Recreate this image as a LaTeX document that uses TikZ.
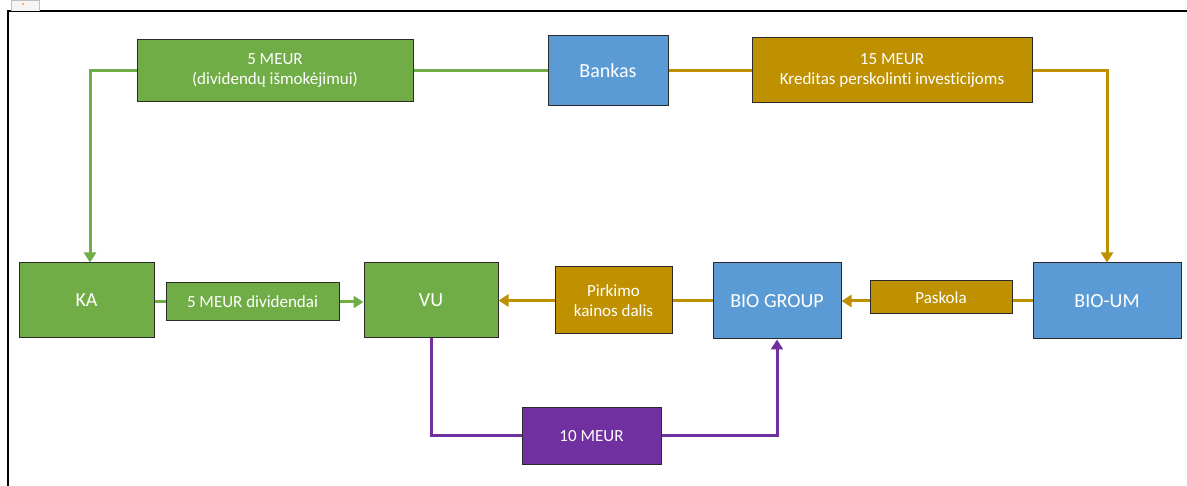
\documentclass[tikz,border=0pt]{standalone}
\usepackage{fontspec}
\setmainfont{Carlito}[Ligatures={NoCommon}]
\usetikzlibrary{arrows.meta,calc}
\definecolor{cgreen}{HTML}{70AD47}
\definecolor{cblue}{HTML}{5B9BD5}
\definecolor{cgold}{HTML}{BF9000}
\definecolor{cpurple}{HTML}{7030A0}
\definecolor{cedge}{HTML}{2B2B2B}
\tikzset{
  box/.style={rectangle, draw=cedge, line width=1pt, text=white, align=center,
    inner sep=0pt, font=\fontsize{17}{20}\selectfont},
  bigbox/.style={box, font=\fontsize{20}{24}\selectfont},
  link/.style={line width=3pt},
  tip/.style={-{Triangle[width=12pt,length=10pt]}},
}
\begin{document}
\begin{tikzpicture}[x=1pt,y=-1pt]
\useasboundingbox (0,0) rectangle (1187,486);
% window frame
\draw[line width=2pt] (8,486) -- (8,11) -- (1187,11);
\draw[draw=black!25, fill=black!4, line width=0.6pt] (11,11) -- (11,0) -- (39,0) -- (39,11);
\fill[orange!80] (23,4) circle (1.2);

% boxes
\node[box, fill=cgreen, minimum width=276, minimum height=62] (divtop) at (275,71) {5 MEUR\\(dividendų išmokėjimui)};
\node[bigbox, fill=cblue, minimum width=120, minimum height=70] (bank) at (608,71) {Bankas};
\node[box, fill=cgold, minimum width=280, minimum height=65] (kred) at (892,70) {15 MEUR\\Kreditas perskolinti investicijoms};

\node[bigbox, fill=cgreen, minimum width=135, minimum height=75] (ka) at (86.5,300.5) {KA};
\node[box, fill=cgreen, minimum width=173, minimum height=38] (div) at (252.5,302) {5 MEUR dividendai};
\node[bigbox, fill=cgreen, minimum width=134, minimum height=75] (vu) at (431,300.5) {VU};
\node[box, fill=cgold, minimum width=117, minimum height=67] (pirk) at (613.5,300.5) {Pirkimo\\kainos dalis};
\node[bigbox, fill=cblue, minimum width=128, minimum height=76] (biog) at (777,301) {BIO GROUP};
\node[box, fill=cgold, minimum width=142, minimum height=33] (pask) at (941,297.5) {Paskola};
\node[bigbox, fill=cblue, minimum width=148, minimum height=76] (bioum) at (1107,301) {BIO-UM};
\node[box, fill=cpurple, minimum width=139, minimum height=56] (ten) at (591.5,436) {10 MEUR};

% green flow: Bankas -> KA
\draw[link, cgreen] (bank.west) -- (divtop.east);
\draw[link, cgreen, tip] (divtop.west) -| ([xshift=3.5pt]ka.north);
% gold flow: Bankas -> BIO-UM
\draw[link, cgold] (bank.east) -- (bank.east -| kred.west);
\draw[link, cgold, tip] (kred.east |- bank.east) -| (bioum.north);
% KA -> VU
\draw[link, cgreen] (ka.east |- div.west) -- (div.west);
\draw[link, cgreen, tip] (div.east) -- (div.east -| vu.west);
% BIO GROUP -> VU
\draw[link, cgold] (biog.west) -- (biog.west -| pirk.east);
\draw[link, cgold, tip] (pirk.west) -- (pirk.west -| vu.east);
% BIO-UM -> BIO GROUP
\draw[link, cgold] (bioum.west) -- (bioum.west -| pask.east);
\draw[link, cgold, tip] (pask.west |- biog.east) -- (biog.east);
% VU -> BIO GROUP
\draw[link, cpurple] (vu.south) |- (ten.west);
\draw[link, cpurple, tip] (ten.east) -| (biog.south);
\end{tikzpicture}
\end{document}
